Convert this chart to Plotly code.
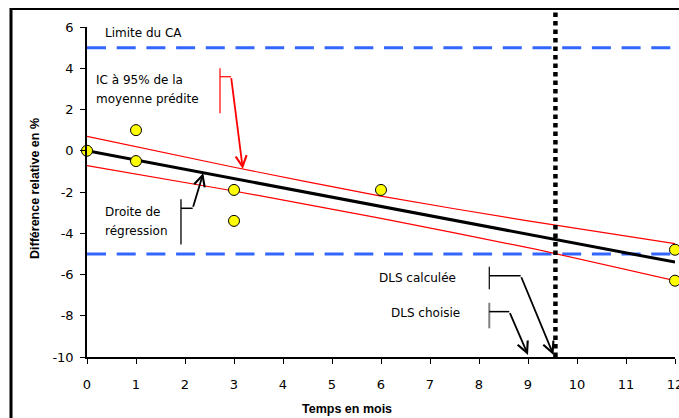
import plotly.graph_objects as go

# ---------------- data ----------------
months = [0, 1, 1, 3, 3, 6, 12, 12]
rel_diff = [0.0, 1.0, -0.5, -1.9, -3.4, -1.9, -4.8, -6.3]

reg_x = [0, 12]
reg_y = [0.0, -5.4]

ci_x = [0, 3, 6, 9, 12]
ci_upper = [0.70, -0.80, -2.20, -3.40, -4.50]
ci_lower = [-0.72, -1.95, -3.28, -4.70, -6.30]

ca_limits = [5, -5]
dls_calc = 9.56
dls_chosen = 9

x_ticks = list(range(0, 13))
x_tick_labels = [str(v) for v in x_ticks]
y_ticks = [-10, -8, -6, -4, -2, 0, 2, 4, 6]
y_tick_labels = ["-10", "-8", "-6", "-4", "-2", "0", "2", "4", "6"]

FONT = "DejaVu Sans"
BOLD = "Liberation Sans"
BLUE = "#3366FF"

fig = go.Figure()

# CA limits (blue dashed)
for lim in ca_limits:
    fig.add_trace(go.Scatter(x=[reg_x[0], reg_x[-1]], y=[lim, lim], mode="lines",
                             line=dict(color=BLUE, width=3, dash="19px,10.7px"),
                             hoverinfo="skip", showlegend=False))

# confidence band
for band in (ci_upper, ci_lower):
    fig.add_trace(go.Scatter(x=ci_x, y=band, mode="lines",
                             line=dict(color="red", width=1.2, shape="spline", smoothing=0.6),
                             hoverinfo="skip", showlegend=False))

# regression
fig.add_trace(go.Scatter(x=reg_x, y=reg_y, mode="lines",
                         line=dict(color="black", width=3), showlegend=False))

# points
fig.add_trace(go.Scatter(x=months, y=rel_diff, mode="markers", cliponaxis=False,
                         marker=dict(size=11, color="#FFFF00",
                                     line=dict(color="black", width=1)),
                         showlegend=False))

shapes = []
# outer frame (left & top edges visible)
shapes.append(dict(type="line", xref="paper", yref="paper",
                   x0=(11 - 87) / 588, x1=(11 - 87) / 588, y0=-0.3, y1=(357 - 8) / 330,
                   line=dict(color="black", width=3)))
shapes.append(dict(type="line", xref="paper", yref="paper",
                   x0=(10 - 87) / 588, x1=1.05, y0=(357 - 9) / 330, y1=(357 - 9) / 330,
                   line=dict(color="black", width=2)))
# DLS dotted vertical
shapes.append(dict(type="line", xref="x", yref="paper",
                   x0=dls_calc, x1=dls_calc, y0=0, y1=(357 - 11) / 330,
                   line=dict(color="black", width=4.5, dash="4.5px,4px")))

def seg(x0, y0, x1, y1, color, width):
    shapes.append(dict(type="line", xref="x", yref="y", x0=x0, y0=y0, x1=x1, y1=y1,
                       line=dict(color=color, width=width)))

# IC bracket (red)
seg(2.714, 4.0, 2.714, 1.82, "red", 1.2)
seg(2.714, 3.59, 2.94, 3.59, "red", 1.2)
# regression bracket
seg(1.918, -2.35, 1.918, -4.54, "black", 1.3)
seg(1.918, -2.79, 2.157, -2.79, "black", 1.5)
# DLS calculée bracket
seg(8.21, -5.62, 8.21, -6.72, "black", 1.2)
seg(8.21, -6.06, 8.851, -6.06, "black", 1.5)
# DLS choisie bracket
seg(8.21, -7.37, 8.21, -8.61, "#808080", 2)
seg(8.21, -7.80, 8.618, -7.80, "black", 1.5)

annotations = []

def arrow(tx, ty, sx, sy, color):
    annotations.append(dict(x=tx, y=ty, ax=sx, ay=sy, xref="x", yref="y",
                            axref="x", ayref="y", text="", showarrow=True,
                            arrowhead=5, arrowsize=1.2, arrowwidth=1.8,
                            arrowcolor=color, standoff=0, startstandoff=0))

arrow(3.18, -0.89, 2.94, 3.59, "red")
arrow(2.373, -1.08, 2.157, -2.79, "black")
arrow(dls_calc - 0.04, -9.9, 8.851, -6.06, "black")
arrow(dls_chosen, -9.9, 8.618, -7.80, "black")

def label(x, y, text):
    annotations.append(dict(x=x, y=y, xref="x", yref="y", text=text, showarrow=False,
                            xanchor="left", yanchor="middle",
                            font=dict(family=FONT, size=12, color="black")))

label(0.327, 5.71, "Limite du CA")
label(0.143, 3.43, "IC à 95% de la")
label(0.143, 2.51, "moyenne prédite")
label(0.327, -2.97, "Droite de")
label(0.327, -3.89, "régression")
label(5.91, -6.18, "DLS calculée")
label(6.17, -7.88, "DLS choisie")

# axis titles
annotations.append(dict(x=(35 - 87) / 588, y=(357 - 189) / 330, xref="paper", yref="paper",
                        text="<b>Différence relative en %</b>", showarrow=False,
                        textangle=-90, xanchor="center", yanchor="middle",
                        font=dict(family=BOLD, size=12.5, color="black")))
annotations.append(dict(x=(347 - 87) / 588, y=(357 - 409) / 330, xref="paper", yref="paper",
                        text="<b>Temps en mois</b>", showarrow=False,
                        xanchor="center", yanchor="middle",
                        font=dict(family=BOLD, size=12.5, color="black")))

fig.update_layout(
    width=679, height=418,
    margin=dict(l=87, r=4, t=27, b=61, autoexpand=False),
    paper_bgcolor="white", plot_bgcolor="white",
    shapes=shapes, annotations=annotations,
    font=dict(family=FONT, size=13, color="black"),
    xaxis=dict(range=[0, 12], tickvals=x_ticks, ticktext=x_tick_labels,
               ticks="outside", ticklen=5, ticklabeloverflow="allow", automargin=False,
               tickcolor="black", showline=True, linecolor="black", linewidth=1.5,
               showgrid=False, zeroline=False, ticklabelstandoff=10),
    yaxis=dict(range=[-10, 6], tickvals=y_ticks, ticktext=y_tick_labels,
               ticks="outside", ticklen=5, ticklabeloverflow="allow", automargin=False,
               tickcolor="black", showline=True, linecolor="black", linewidth=1.5,
               showgrid=False, zeroline=False, ticklabelstandoff=4),
)

fig.write_html("out.html", config={"displayModeBar": False},
               post_script="document.body.style.margin='0';")
